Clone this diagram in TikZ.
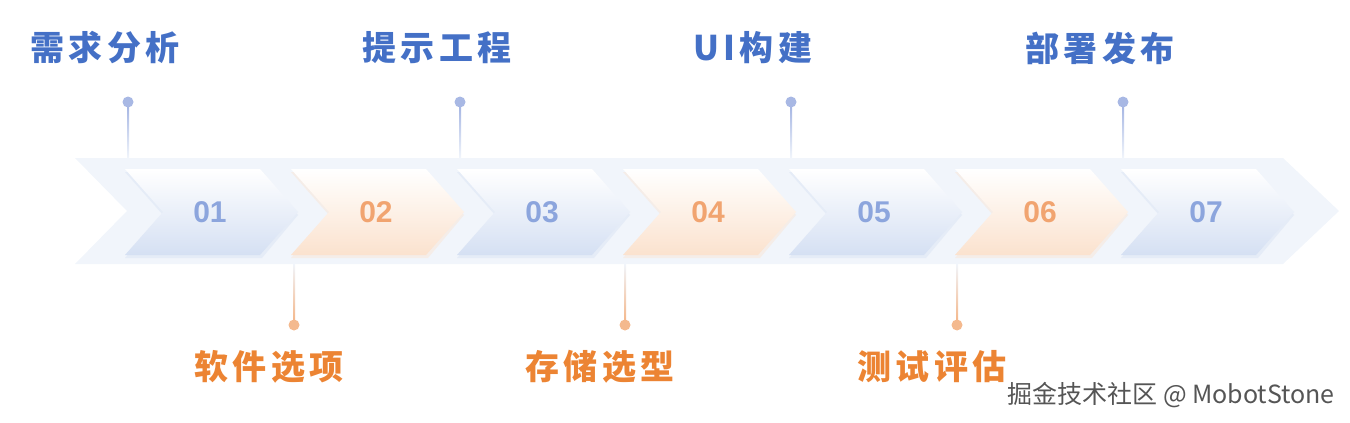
\documentclass[tikz,border=0pt]{standalone}
\usepackage{fontspec}
\setmainfont{Liberation Sans}
\newfontfamily\cjk{Noto Sans CJK SC}
\newfontfamily\cjkwide{Noto Sans CJK SC}[LetterSpace=13]
\usetikzlibrary{positioning}

\definecolor{titleblue}{HTML}{4470C6}
\definecolor{titleorange}{HTML}{EC8433}
\definecolor{numblue}{HTML}{8CA5DD}
\definecolor{numorange}{HTML}{F1A470}
\definecolor{bandgray}{HTML}{F1F5FB}
\definecolor{chevblue}{HTML}{D5E0F3}
\definecolor{chevorange}{HTML}{FBE2CE}
\definecolor{dotblue}{HTML}{A8B8E4}
\definecolor{dotorange}{HTML}{F4B98E}
\definecolor{markgray}{HTML}{555555}

\begin{document}
\begin{tikzpicture}[x=1pt, y=-1pt]
        \tikzstyle{maintitle}=[anchor=west, inner sep=0pt, text=titleblue, font=\cjkwide\bfseries\fontsize{34}{34}\selectfont]
        \tikzstyle{subtitle}=[anchor=west, inner sep=0pt, text=titleorange, font=\cjkwide\bfseries\fontsize{34}{34}\selectfont]
        \tikzstyle{num}=[inner sep=0pt, font=\bfseries\fontsize{30}{30}\selectfont]
        \tikzstyle{dotb}=[circle, fill=dotblue, inner sep=0pt, minimum size=11pt]
        \tikzstyle{doto}=[circle, fill=dotorange, inner sep=0pt, minimum size=11pt]
        \tikzstyle{watermark}=[anchor=east, inner sep=0pt, text=markgray, font=\cjk\fontsize{25}{25}\selectfont]

        \useasboundingbox (0,0) rectangle (1350,423);

        % Banda de fondo
        \fill[bandgray] (75,158) -- (1283,158) -- (1339,211) -- (1283,264) -- (75,264) -- (127,211) -- cycle;

        % Flechas numeradas
        \foreach \i/\num/\tone in {0/01/blue, 1/02/orange, 2/03/blue, 3/04/orange, 4/05/blue, 5/06/orange, 6/07/blue} {
            \pgfmathsetmacro\xl{125+166*\i}
            \fill[chev\tone!70!bandgray, opacity=0.6] (\xl,172) -- ++(135,0) -- ++(38,43) -- ++(-36,43) -- ++(-137,0) -- ++(38,-43) -- cycle;
            \shade[top color=white, middle color=chev\tone!40!white, bottom color=chev\tone] (\xl,169) -- ++(135,0) -- ++(38,43) -- ++(-38,43) -- ++(-135,0) -- ++(38,-43) -- cycle;
            \node[num, text=num\tone] (n\num) at (\xl+85,212) {\num};
        }

        % Hitos superiores
        \foreach \k/\xd/\txt in {1/128/需求分析, 2/460/提示工程, 3/791/UI构建, 4/1123/部署发布} {
            \coordinate (b\k) at (\xd,158);
            \node[dotb] (d\k) at (\xd,102) {};
            \shade[top color=dotblue, bottom color=bandgray] ([xshift=-1pt]d\k.south) rectangle ([xshift=1pt]b\k);
            \node[maintitle] (t\k) at (\xd-98,48) {\txt};
        }

        % Hitos inferiores
        \foreach \k/\xd/\txt in {1/294/软件选项, 2/625/存储选型, 3/957/测试评估} {
            \coordinate (c\k) at (\xd,264);
            \node[doto] (e\k) at (\xd,325) {};
            \shade[top color=bandgray, bottom color=dotorange] ([xshift=-1pt]c\k) rectangle ([xshift=1pt]e\k.north);
            \node[subtitle] (s\k) at (\xd-100,367) {\txt};
        }

        \node[watermark] (wm) at (1335,395) {掘金技术社区 @ MobotStone};
\end{tikzpicture}
\end{document}
